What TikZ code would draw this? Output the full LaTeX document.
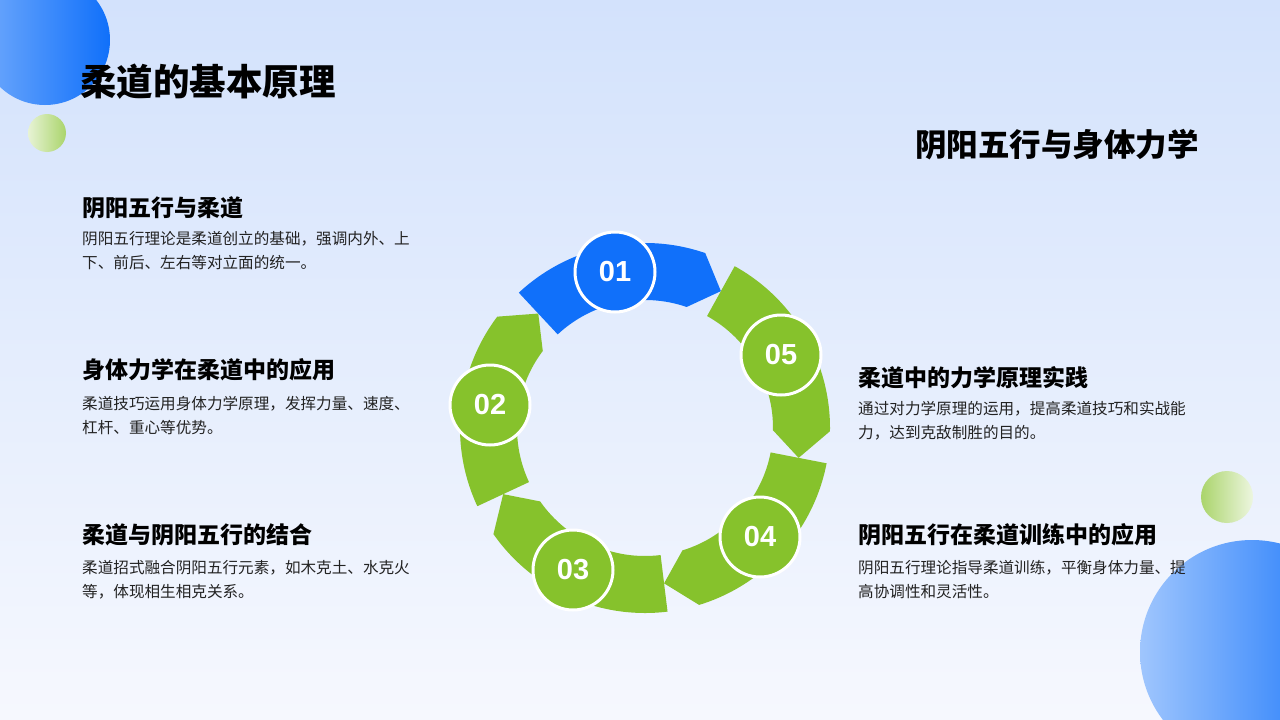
\documentclass[tikz,border=0pt]{standalone}
\usepackage{fontspec}
\setmainfont{Noto Sans CJK SC}
\newfontfamily\numfont{Liberation Sans}
\usetikzlibrary{shadings}
\definecolor{cblue}{HTML}{1070FA}
\definecolor{cgreen}{HTML}{86C22C}
\definecolor{bgtop}{HTML}{D3E2FC}
\definecolor{bgbot}{HTML}{F6F8FE}
\definecolor{txt}{HTML}{222222}
\tikzset{
  head/.style={anchor=west,font=\bfseries\fontsize{23}{27}\selectfont,text=black,inner sep=0},
  body/.style={anchor=north west,font=\fontsize{15.6}{24.5}\selectfont,text=txt,inner sep=0,align=left},
  numc/.style={circle,draw=white,line width=3pt,minimum size=80pt,inner sep=0,text=white,font=\numfont\bfseries\fontsize{29}{31}\selectfont},
}
\newcommand{\seg}[2]{% tail angle, fill
  \fill[#2] (#1:185) arc[start angle=#1,end angle=#1-62,radius=185] -- (#1-72:156.5) -- (#1-62:128) arc[start angle=#1-62,end angle=#1,radius=128] -- cycle;}
\begin{document}
\begin{tikzpicture}[x=1pt,y=-1pt]
\useasboundingbox (0,0) rectangle (1280,720);
\shade[top color=bgtop,bottom color=bgbot] (0,0) rectangle (1280,720);
\shade[left color=cblue!60,right color=cblue] (45,40) circle (65);
\shade[left color=cgreen!20,right color=cgreen!70] (47,133) circle (19);
\shade[left color=cgreen!70,right color=cgreen!15] (1227,497) circle (26);
\shade[left color=cblue!40,right color=cblue] (1252,652) circle (112);
\node[anchor=west,font=\bfseries\fontsize{36.5}{40}\selectfont,inner sep=0] (title) at (80,82) {柔道的基本原理};
\node[anchor=east,font=\bfseries\fontsize{31.5}{34}\selectfont,inner sep=0] (sub) at (1199,145) {阴阳五行与身体力学};
\node[head] (h1) at (82,208) {阴阳五行与柔道};
\node[body] (b1) at (82,231) {阴阳五行理论是柔道创立的基础，强调内外、上\\下、前后、左右等对立面的统一。};
\node[head] (h2) at (82,370) {身体力学在柔道中的应用};
\node[body] (b2) at (82,396) {柔道技巧运用身体力学原理，发挥力量、速度、\\杠杆、重心等优势。};
\node[head] (h3) at (82,535) {柔道与阴阳五行的结合};
\node[body] (b3) at (82,560) {柔道招式融合阴阳五行元素，如木克土、水克火\\等，体现相生相克关系。};
\node[head] (h4) at (858,378) {柔道中的力学原理实践};
\node[body] (b4) at (858,401) {通过对力学原理的运用，提高柔道技巧和实战能\\力，达到克敌制胜的目的。};
\node[head] (h5) at (858,535) {阴阳五行在柔道训练中的应用};
\node[body] (b5) at (858,560) {阴阳五行理论指导柔道训练，平衡身体力量、提\\高协调性和灵活性。};
\begin{scope}[shift={(645,428)},y=1pt]
\seg{133}{cblue}
\seg{61}{cgreen}
\seg{-11}{cgreen}
\seg{-83}{cgreen}
\seg{-155}{cgreen}
\end{scope}
\node[numc,fill=cblue] (n1) at (615,272) {01};
\node[numc,fill=cgreen] (n5) at (781,355) {05};
\node[numc,fill=cgreen] (n4) at (760,537) {04};
\node[numc,fill=cgreen] (n3) at (573,570) {03};
\node[numc,fill=cgreen] (n2) at (490,405) {02};
\end{tikzpicture}
\end{document}
